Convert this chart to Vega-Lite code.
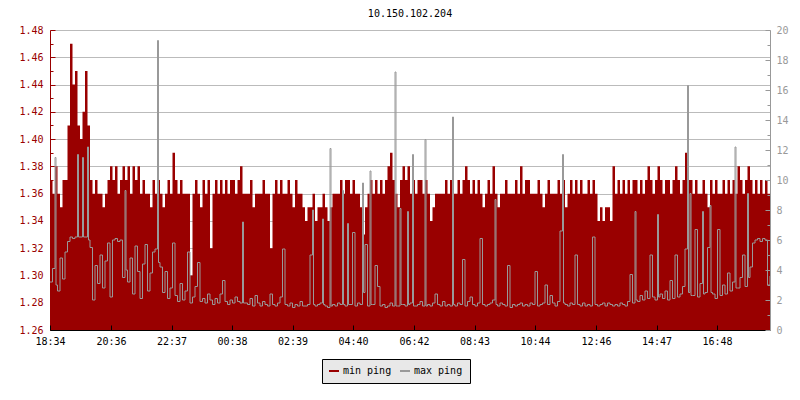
{
"$schema": "https://vega.github.io/schema/vega-lite/v6.json",
"width": 720,
"height": 300,
"autosize": {"type": "none"},
"padding": {"left": 50, "top": 30, "right": 30, "bottom": 70},
"background": "white",
"title": {"text": "10.150.102.204", "font": "DejaVu Sans Mono", "fontSize": 10, "fontWeight": "normal", "color": "#000000", "offset": 6},
"config": {"view": {"stroke": null}, "axis": {"labelFont": "DejaVu Sans Mono", "labelFontSize": 10}},
"data": {
"format": {"parse": {"t": "date:'%d %H:%M'"}},
"values": [
{"t":"01 18:34","a":1.37,"b":3.2},{"t":"01 18:39","a":1.36,"b":4.1},{"t":"01 18:44","a":1.38,"b":11.5},{"t":"01 18:46","a":1.38,"b":3.0},{"t":"01 18:49","a":1.36,"b":2.6},{"t":"01 18:54","a":1.35,"b":4.8},{"t":"01 18:59","a":1.37,"b":3.4},
{"t":"01 19:04","a":1.37,"b":5.2},{"t":"01 19:09","a":1.41,"b":5.9},{"t":"01 19:14","a":1.47,"b":6.2},{"t":"01 19:19","a":1.44,"b":6.1},{"t":"01 19:24","a":1.45,"b":6.2},{"t":"01 19:29","a":1.41,"b":11.7},{"t":"01 19:31","a":1.41,"b":6.2},{"t":"01 19:34","a":1.40,"b":6.2},{"t":"01 19:39","a":1.42,"b":11.5},{"t":"01 19:41","a":1.42,"b":6.2},{"t":"01 19:44","a":1.45,"b":6.2},{"t":"01 19:49","a":1.41,"b":12.2},{"t":"01 19:51","a":1.41,"b":6.0},{"t":"01 19:54","a":1.37,"b":5.5},{"t":"01 19:59","a":1.36,"b":2.0},
{"t":"01 20:04","a":1.37,"b":4.3},{"t":"01 20:09","a":1.36,"b":3.1},{"t":"01 20:14","a":1.36,"b":5.0},{"t":"01 20:19","a":1.35,"b":2.8},{"t":"01 20:24","a":1.36,"b":4.6},{"t":"01 20:29","a":1.37,"b":5.8},{"t":"01 20:34","a":1.38,"b":2.2},{"t":"01 20:39","a":1.37,"b":6.0},{"t":"01 20:44","a":1.38,"b":6.1},{"t":"01 20:49","a":1.36,"b":5.9},{"t":"01 20:54","a":1.37,"b":6.0},{"t":"01 20:59","a":1.38,"b":3.5},
{"t":"01 21:04","a":1.37,"b":9.3},{"t":"01 21:06","a":1.37,"b":4.0},{"t":"01 21:09","a":1.38,"b":3.2},{"t":"01 21:14","a":1.36,"b":4.8},{"t":"01 21:19","a":1.38,"b":2.4},{"t":"01 21:24","a":1.37,"b":5.6},{"t":"01 21:29","a":1.38,"b":3.9},{"t":"01 21:34","a":1.36,"b":2.1},{"t":"01 21:39","a":1.37,"b":4.4},{"t":"01 21:44","a":1.36,"b":5.7},{"t":"01 21:49","a":1.36,"b":2.6},{"t":"01 21:54","a":1.35,"b":3.8},{"t":"01 21:59","a":1.37,"b":5.2},
{"t":"01 22:04","a":1.36,"b":5.4},{"t":"01 22:09","a":1.37,"b":19.3},{"t":"01 22:11","a":1.37,"b":4.5},{"t":"01 22:14","a":1.36,"b":4.2},{"t":"01 22:19","a":1.35,"b":2.5},{"t":"01 22:24","a":1.36,"b":3.9},{"t":"01 22:29","a":1.37,"b":2.1},{"t":"01 22:34","a":1.36,"b":2.8},{"t":"01 22:39","a":1.39,"b":5.8},{"t":"01 22:44","a":1.37,"b":2.3},{"t":"01 22:49","a":1.36,"b":1.9},{"t":"01 22:54","a":1.37,"b":3.1},{"t":"01 22:59","a":1.36,"b":2.0},
{"t":"01 23:04","a":1.36,"b":2.6},{"t":"01 23:09","a":1.36,"b":5.2},{"t":"01 23:14","a":1.30,"b":1.8},{"t":"01 23:19","a":1.36,"b":2.2},{"t":"01 23:24","a":1.37,"b":2.9},{"t":"01 23:29","a":1.36,"b":4.5},{"t":"01 23:34","a":1.35,"b":1.9},{"t":"01 23:39","a":1.37,"b":2.1},{"t":"01 23:44","a":1.36,"b":1.8},{"t":"01 23:49","a":1.37,"b":2.4},{"t":"01 23:54","a":1.32,"b":2.0},{"t":"01 23:59","a":1.36,"b":1.7},
{"t":"02 00:04","a":1.37,"b":2.1},{"t":"02 00:09","a":1.36,"b":1.8},{"t":"02 00:14","a":1.37,"b":2.4},{"t":"02 00:19","a":1.36,"b":3.3},{"t":"02 00:24","a":1.37,"b":1.9},{"t":"02 00:29","a":1.36,"b":1.7},{"t":"02 00:34","a":1.37,"b":2.0},{"t":"02 00:39","a":1.37,"b":1.8},{"t":"02 00:44","a":1.36,"b":2.2},{"t":"02 00:49","a":1.37,"b":1.9},{"t":"02 00:54","a":1.38,"b":1.8},{"t":"02 00:59","a":1.36,"b":7.2},{"t":"02 01:01","a":1.36,"b":1.8},
{"t":"02 01:04","a":1.36,"b":1.8},{"t":"02 01:09","a":1.36,"b":1.7},{"t":"02 01:14","a":1.37,"b":2.1},{"t":"02 01:19","a":1.35,"b":1.6},{"t":"02 01:24","a":1.36,"b":2.3},{"t":"02 01:29","a":1.36,"b":1.8},{"t":"02 01:34","a":1.36,"b":1.6},{"t":"02 01:39","a":1.37,"b":1.9},{"t":"02 01:44","a":1.36,"b":1.7},{"t":"02 01:49","a":1.36,"b":1.6},{"t":"02 01:54","a":1.32,"b":2.4},{"t":"02 01:59","a":1.36,"b":1.7},
{"t":"02 02:04","a":1.37,"b":1.6},{"t":"02 02:09","a":1.36,"b":1.8},{"t":"02 02:14","a":1.37,"b":2.2},{"t":"02 02:19","a":1.36,"b":5.4},{"t":"02 02:24","a":1.36,"b":1.7},{"t":"02 02:29","a":1.37,"b":1.6},{"t":"02 02:34","a":1.36,"b":1.8},{"t":"02 02:39","a":1.35,"b":1.5},{"t":"02 02:44","a":1.37,"b":1.7},{"t":"02 02:49","a":1.36,"b":1.6},{"t":"02 02:54","a":1.36,"b":1.9},{"t":"02 02:59","a":1.35,"b":1.6},
{"t":"02 03:04","a":1.34,"b":1.6},{"t":"02 03:09","a":1.35,"b":1.7},{"t":"02 03:14","a":1.35,"b":5.0},{"t":"02 03:19","a":1.36,"b":8.0},{"t":"02 03:21","a":1.36,"b":1.7},{"t":"02 03:24","a":1.34,"b":1.6},{"t":"02 03:29","a":1.35,"b":1.7},{"t":"02 03:34","a":1.35,"b":1.8},{"t":"02 03:39","a":1.36,"b":7.4},{"t":"02 03:41","a":1.36,"b":1.7},{"t":"02 03:44","a":1.35,"b":1.6},{"t":"02 03:49","a":1.34,"b":1.5},{"t":"02 03:54","a":1.35,"b":12.1},{"t":"02 03:56","a":1.35,"b":1.6},{"t":"02 03:59","a":1.36,"b":1.7},
{"t":"02 04:04","a":1.36,"b":1.6},{"t":"02 04:09","a":1.36,"b":1.8},{"t":"02 04:14","a":1.37,"b":1.7},{"t":"02 04:19","a":1.36,"b":9.3},{"t":"02 04:21","a":1.36,"b":1.7},{"t":"02 04:24","a":1.37,"b":1.6},{"t":"02 04:29","a":1.37,"b":7.1},{"t":"02 04:31","a":1.37,"b":1.7},{"t":"02 04:34","a":1.36,"b":1.7},{"t":"02 04:39","a":1.37,"b":6.5},{"t":"02 04:44","a":1.36,"b":1.6},{"t":"02 04:49","a":1.36,"b":1.8},{"t":"02 04:54","a":1.35,"b":1.7},{"t":"02 04:59","a":1.33,"b":9.8},{"t":"02 05:01","a":1.33,"b":2.5},
{"t":"02 05:04","a":1.35,"b":5.7},{"t":"02 05:09","a":1.36,"b":1.6},{"t":"02 05:14","a":1.37,"b":10.6},{"t":"02 05:16","a":1.37,"b":1.7},{"t":"02 05:19","a":1.36,"b":1.7},{"t":"02 05:24","a":1.37,"b":4.3},{"t":"02 05:29","a":1.36,"b":2.9},{"t":"02 05:34","a":1.37,"b":1.6},{"t":"02 05:39","a":1.36,"b":1.7},{"t":"02 05:44","a":1.37,"b":1.5},{"t":"02 05:49","a":1.38,"b":1.6},{"t":"02 05:54","a":1.39,"b":1.8},{"t":"02 05:59","a":1.37,"b":1.6},
{"t":"02 06:04","a":1.36,"b":17.2},{"t":"02 06:06","a":1.36,"b":1.6},{"t":"02 06:09","a":1.35,"b":1.6},{"t":"02 06:14","a":1.37,"b":8.1},{"t":"02 06:16","a":1.37,"b":1.7},{"t":"02 06:19","a":1.38,"b":1.7},{"t":"02 06:24","a":1.37,"b":1.6},{"t":"02 06:29","a":1.38,"b":7.9},{"t":"02 06:31","a":1.38,"b":1.7},{"t":"02 06:34","a":1.36,"b":1.8},{"t":"02 06:39","a":1.37,"b":11.7},{"t":"02 06:41","a":1.37,"b":1.6},{"t":"02 06:44","a":1.36,"b":1.6},{"t":"02 06:49","a":1.37,"b":1.7},{"t":"02 06:54","a":1.37,"b":1.9},{"t":"02 06:59","a":1.36,"b":1.6},
{"t":"02 07:04","a":1.37,"b":12.7},{"t":"02 07:06","a":1.37,"b":1.6},{"t":"02 07:09","a":1.36,"b":1.7},{"t":"02 07:14","a":1.34,"b":1.6},{"t":"02 07:19","a":1.35,"b":1.8},{"t":"02 07:24","a":1.36,"b":2.4},{"t":"02 07:29","a":1.36,"b":1.7},{"t":"02 07:34","a":1.36,"b":1.6},{"t":"02 07:39","a":1.36,"b":1.9},{"t":"02 07:44","a":1.37,"b":1.6},{"t":"02 07:49","a":1.36,"b":1.7},{"t":"02 07:54","a":1.37,"b":1.6},{"t":"02 07:59","a":1.36,"b":14.2},{"t":"02 08:01","a":1.36,"b":1.7},
{"t":"02 08:04","a":1.36,"b":1.6},{"t":"02 08:09","a":1.37,"b":1.8},{"t":"02 08:14","a":1.36,"b":1.7},{"t":"02 08:19","a":1.37,"b":4.7},{"t":"02 08:24","a":1.38,"b":1.6},{"t":"02 08:29","a":1.37,"b":1.9},{"t":"02 08:34","a":1.36,"b":2.2},{"t":"02 08:39","a":1.37,"b":1.7},{"t":"02 08:44","a":1.36,"b":1.6},{"t":"02 08:49","a":1.37,"b":1.8},{"t":"02 08:54","a":1.36,"b":6.1},{"t":"02 08:59","a":1.35,"b":1.7},
{"t":"02 09:04","a":1.36,"b":1.6},{"t":"02 09:09","a":1.37,"b":1.7},{"t":"02 09:14","a":1.36,"b":1.8},{"t":"02 09:19","a":1.38,"b":2.0},{"t":"02 09:24","a":1.36,"b":8.7},{"t":"02 09:26","a":1.36,"b":1.7},{"t":"02 09:29","a":1.35,"b":1.6},{"t":"02 09:34","a":1.36,"b":1.8},{"t":"02 09:39","a":1.36,"b":1.7},{"t":"02 09:44","a":1.37,"b":1.6},{"t":"02 09:49","a":1.36,"b":4.3},{"t":"02 09:54","a":1.36,"b":1.5},{"t":"02 09:59","a":1.36,"b":1.7},
{"t":"02 10:04","a":1.37,"b":1.6},{"t":"02 10:09","a":1.36,"b":1.7},{"t":"02 10:14","a":1.38,"b":1.8},{"t":"02 10:19","a":1.36,"b":1.6},{"t":"02 10:24","a":1.37,"b":1.7},{"t":"02 10:29","a":1.37,"b":1.6},{"t":"02 10:34","a":1.36,"b":1.8},{"t":"02 10:39","a":1.36,"b":1.7},{"t":"02 10:44","a":1.36,"b":3.9},{"t":"02 10:49","a":1.37,"b":1.6},{"t":"02 10:54","a":1.36,"b":1.7},{"t":"02 10:59","a":1.35,"b":1.8},
{"t":"02 11:04","a":1.36,"b":3.0},{"t":"02 11:09","a":1.37,"b":1.7},{"t":"02 11:14","a":1.36,"b":2.3},{"t":"02 11:19","a":1.36,"b":1.8},{"t":"02 11:24","a":1.36,"b":1.6},{"t":"02 11:29","a":1.37,"b":1.9},{"t":"02 11:34","a":1.36,"b":6.6},{"t":"02 11:39","a":1.37,"b":11.7},{"t":"02 11:41","a":1.37,"b":1.8},{"t":"02 11:44","a":1.35,"b":1.7},{"t":"02 11:49","a":1.36,"b":1.6},{"t":"02 11:54","a":1.37,"b":1.8},{"t":"02 11:59","a":1.36,"b":1.7},
{"t":"02 12:04","a":1.37,"b":5.0},{"t":"02 12:09","a":1.36,"b":1.7},{"t":"02 12:14","a":1.37,"b":1.6},{"t":"02 12:19","a":1.36,"b":1.8},{"t":"02 12:24","a":1.36,"b":1.6},{"t":"02 12:29","a":1.37,"b":1.7},{"t":"02 12:34","a":1.36,"b":1.6},{"t":"02 12:39","a":1.37,"b":6.2},{"t":"02 12:44","a":1.36,"b":1.7},{"t":"02 12:49","a":1.34,"b":1.6},{"t":"02 12:54","a":1.35,"b":1.7},{"t":"02 12:59","a":1.34,"b":1.8},
{"t":"02 13:04","a":1.35,"b":1.6},{"t":"02 13:09","a":1.35,"b":1.8},{"t":"02 13:14","a":1.34,"b":1.7},{"t":"02 13:19","a":1.38,"b":1.6},{"t":"02 13:24","a":1.36,"b":1.7},{"t":"02 13:29","a":1.37,"b":1.6},{"t":"02 13:34","a":1.36,"b":1.8},{"t":"02 13:39","a":1.37,"b":1.7},{"t":"02 13:44","a":1.36,"b":1.6},{"t":"02 13:49","a":1.37,"b":1.9},{"t":"02 13:54","a":1.36,"b":3.7},{"t":"02 13:59","a":1.37,"b":1.8},
{"t":"02 14:04","a":1.37,"b":7.9},{"t":"02 14:06","a":1.37,"b":2.0},{"t":"02 14:09","a":1.36,"b":1.9},{"t":"02 14:14","a":1.37,"b":2.3},{"t":"02 14:19","a":1.36,"b":2.0},{"t":"02 14:24","a":1.37,"b":2.6},{"t":"02 14:29","a":1.38,"b":2.1},{"t":"02 14:34","a":1.37,"b":5.0},{"t":"02 14:39","a":1.36,"b":2.2},{"t":"02 14:44","a":1.37,"b":2.0},{"t":"02 14:49","a":1.38,"b":7.7},{"t":"02 14:51","a":1.38,"b":2.2},{"t":"02 14:54","a":1.37,"b":2.4},{"t":"02 14:59","a":1.36,"b":2.1},
{"t":"02 15:04","a":1.37,"b":2.6},{"t":"02 15:09","a":1.37,"b":2.0},{"t":"02 15:14","a":1.36,"b":3.3},{"t":"02 15:19","a":1.37,"b":2.1},{"t":"02 15:24","a":1.38,"b":5.0},{"t":"02 15:29","a":1.37,"b":2.2},{"t":"02 15:34","a":1.36,"b":2.4},{"t":"02 15:39","a":1.37,"b":2.9},{"t":"02 15:44","a":1.39,"b":5.4},{"t":"02 15:49","a":1.37,"b":16.3},{"t":"02 15:51","a":1.37,"b":2.5},{"t":"02 15:54","a":1.37,"b":9.1},{"t":"02 15:56","a":1.37,"b":2.3},{"t":"02 15:59","a":1.36,"b":2.3},
{"t":"02 16:04","a":1.37,"b":6.7},{"t":"02 16:09","a":1.36,"b":2.2},{"t":"02 16:14","a":1.36,"b":3.1},{"t":"02 16:19","a":1.37,"b":7.9},{"t":"02 16:21","a":1.37,"b":2.4},{"t":"02 16:24","a":1.36,"b":2.5},{"t":"02 16:29","a":1.35,"b":5.5},{"t":"02 16:34","a":1.37,"b":8.3},{"t":"02 16:36","a":1.37,"b":2.5},{"t":"02 16:39","a":1.36,"b":2.4},{"t":"02 16:44","a":1.37,"b":2.1},{"t":"02 16:49","a":1.36,"b":6.7},{"t":"02 16:54","a":1.36,"b":2.3},{"t":"02 16:59","a":1.37,"b":3.0},
{"t":"02 17:04","a":1.36,"b":2.4},{"t":"02 17:09","a":1.37,"b":3.8},{"t":"02 17:14","a":1.36,"b":2.6},{"t":"02 17:19","a":1.37,"b":3.2},{"t":"02 17:24","a":1.36,"b":12.2},{"t":"02 17:26","a":1.36,"b":2.8},{"t":"02 17:29","a":1.38,"b":2.8},{"t":"02 17:34","a":1.37,"b":3.5},{"t":"02 17:39","a":1.36,"b":5.0},{"t":"02 17:44","a":1.37,"b":2.9},{"t":"02 17:49","a":1.38,"b":9.1},{"t":"02 17:51","a":1.38,"b":3.5},{"t":"02 17:54","a":1.37,"b":4.2},{"t":"02 17:59","a":1.36,"b":5.8},
{"t":"02 18:04","a":1.37,"b":6.0},{"t":"02 18:09","a":1.36,"b":6.1},{"t":"02 18:14","a":1.37,"b":5.9},{"t":"02 18:19","a":1.36,"b":6.1},{"t":"02 18:24","a":1.37,"b":6.0},{"t":"02 18:29","a":1.36,"b":3.0},{"t":"02 18:34","a":1.37,"b":3.6}
]},
"encoding": {
"x": {"field": "t", "type": "temporal",
 "scale": {"domain": [{"year": 1900, "month": 1, "date": 1, "hours": 18, "minutes": 34}, {"year": 1900, "month": 1, "date": 2, "hours": 18, "minutes": 34}]},
 "axis": {"title": null, "format": "%H:%M", "grid": false, "labelColor": "#000000", "tickColor": "#000000", "domainColor": "#000000", "tickSize": -5, "labelPadding": 11, "labelFlush": false, "labelOverlap": false, "zindex": 1,
 "values": [
 {"year": 1900, "month": 1, "date": 1, "hours": 18, "minutes": 34},
 {"year": 1900, "month": 1, "date": 1, "hours": 20, "minutes": 36},
 {"year": 1900, "month": 1, "date": 1, "hours": 22, "minutes": 37},
 {"year": 1900, "month": 1, "date": 2, "hours": 0, "minutes": 38},
 {"year": 1900, "month": 1, "date": 2, "hours": 2, "minutes": 39},
 {"year": 1900, "month": 1, "date": 2, "hours": 4, "minutes": 40},
 {"year": 1900, "month": 1, "date": 2, "hours": 6, "minutes": 42},
 {"year": 1900, "month": 1, "date": 2, "hours": 8, "minutes": 43},
 {"year": 1900, "month": 1, "date": 2, "hours": 10, "minutes": 44},
 {"year": 1900, "month": 1, "date": 2, "hours": 12, "minutes": 46},
 {"year": 1900, "month": 1, "date": 2, "hours": 14, "minutes": 47},
 {"year": 1900, "month": 1, "date": 2, "hours": 16, "minutes": 48}
 ]}}
},
"layer": [
{"mark": {"type": "area", "interpolate": "step-after", "clip": true},
 "encoding": {
 "y": {"field": "a", "type": "quantitative",
  "scale": {"domain": [1.26, 1.48], "zero": false, "nice": false},
  "axis": {"title": null, "orient": "left", "zindex": 0,
   "values": [1.26,1.27,1.28,1.29,1.30,1.31,1.32,1.33,1.34,1.35,1.36,1.37,1.38,1.39,1.40,1.41,1.42,1.43,1.44,1.45,1.46,1.47,1.48],
   "labelExpr": "round(datum.value*100)%2==0 ? format(datum.value,'.2f') : ''",
   "labelColor": "#990000", "tickColor": "#990000", "domainColor": "#990000",
   "tickSize": {"condition": {"test": "round(datum.value*100)%2==0", "value": -5}, "value": -3},
   "grid": true, "gridColor": "#bbbbbb",
   "gridOpacity": {"condition": {"test": "round(datum.value*100)%2==0", "value": 1}, "value": 0},
   "labelPadding": 12}},
 "color": {"datum": "min ping", "type": "nominal",
  "scale": {"domain": ["min ping", "max ping"], "range": ["#990000", "#999999"]},
  "legend": {"orient": "none", "legendX": 272, "legendY": 329, "direction": "horizontal", "title": null,
   "fillColor": "#e8e8e8", "strokeColor": "#000000", "padding": 7,
   "labelFont": "DejaVu Sans Mono", "labelFontSize": 10, "labelColor": "#000000", "labelOffset": 4,
   "symbolType": "M-1,-0.2H1V0.2H-1Z", "symbolSize": 100, "symbolStrokeWidth": 0, "symbolOpacity": 1, "columnPadding": 8,
   "encode": {"symbols": {"update": {"fill": {"scale": "color", "field": "value"}, "stroke": {"scale": "color", "field": "value"}, "opacity": {"value": 1}}}}}}
 }},
{"mark": {"type": "line", "interpolate": "step-after", "strokeWidth": 1, "clip": true, "opacity": 1},
 "encoding": {
 "y": {"field": "b", "type": "quantitative",
  "scale": {"domain": [0, 20], "nice": false},
  "axis": {"title": null, "orient": "right", "zindex": 1,
   "values": [0,1,2,3,4,5,6,7,8,9,10,11,12,13,14,15,16,17,18,19,20],
   "labelExpr": "datum.value%2==0 ? datum.label : ''",
   "labelColor": "#999999", "tickColor": "#999999", "domainColor": "#999999",
   "tickSize": {"condition": {"test": "datum.value%2==0", "value": -5}, "value": -3},
   "grid": false, "labelPadding": 11}},
 "color": {"datum": "max ping", "type": "nominal"}
 }}
],
"resolve": {"scale": {"y": "independent"}}
}
